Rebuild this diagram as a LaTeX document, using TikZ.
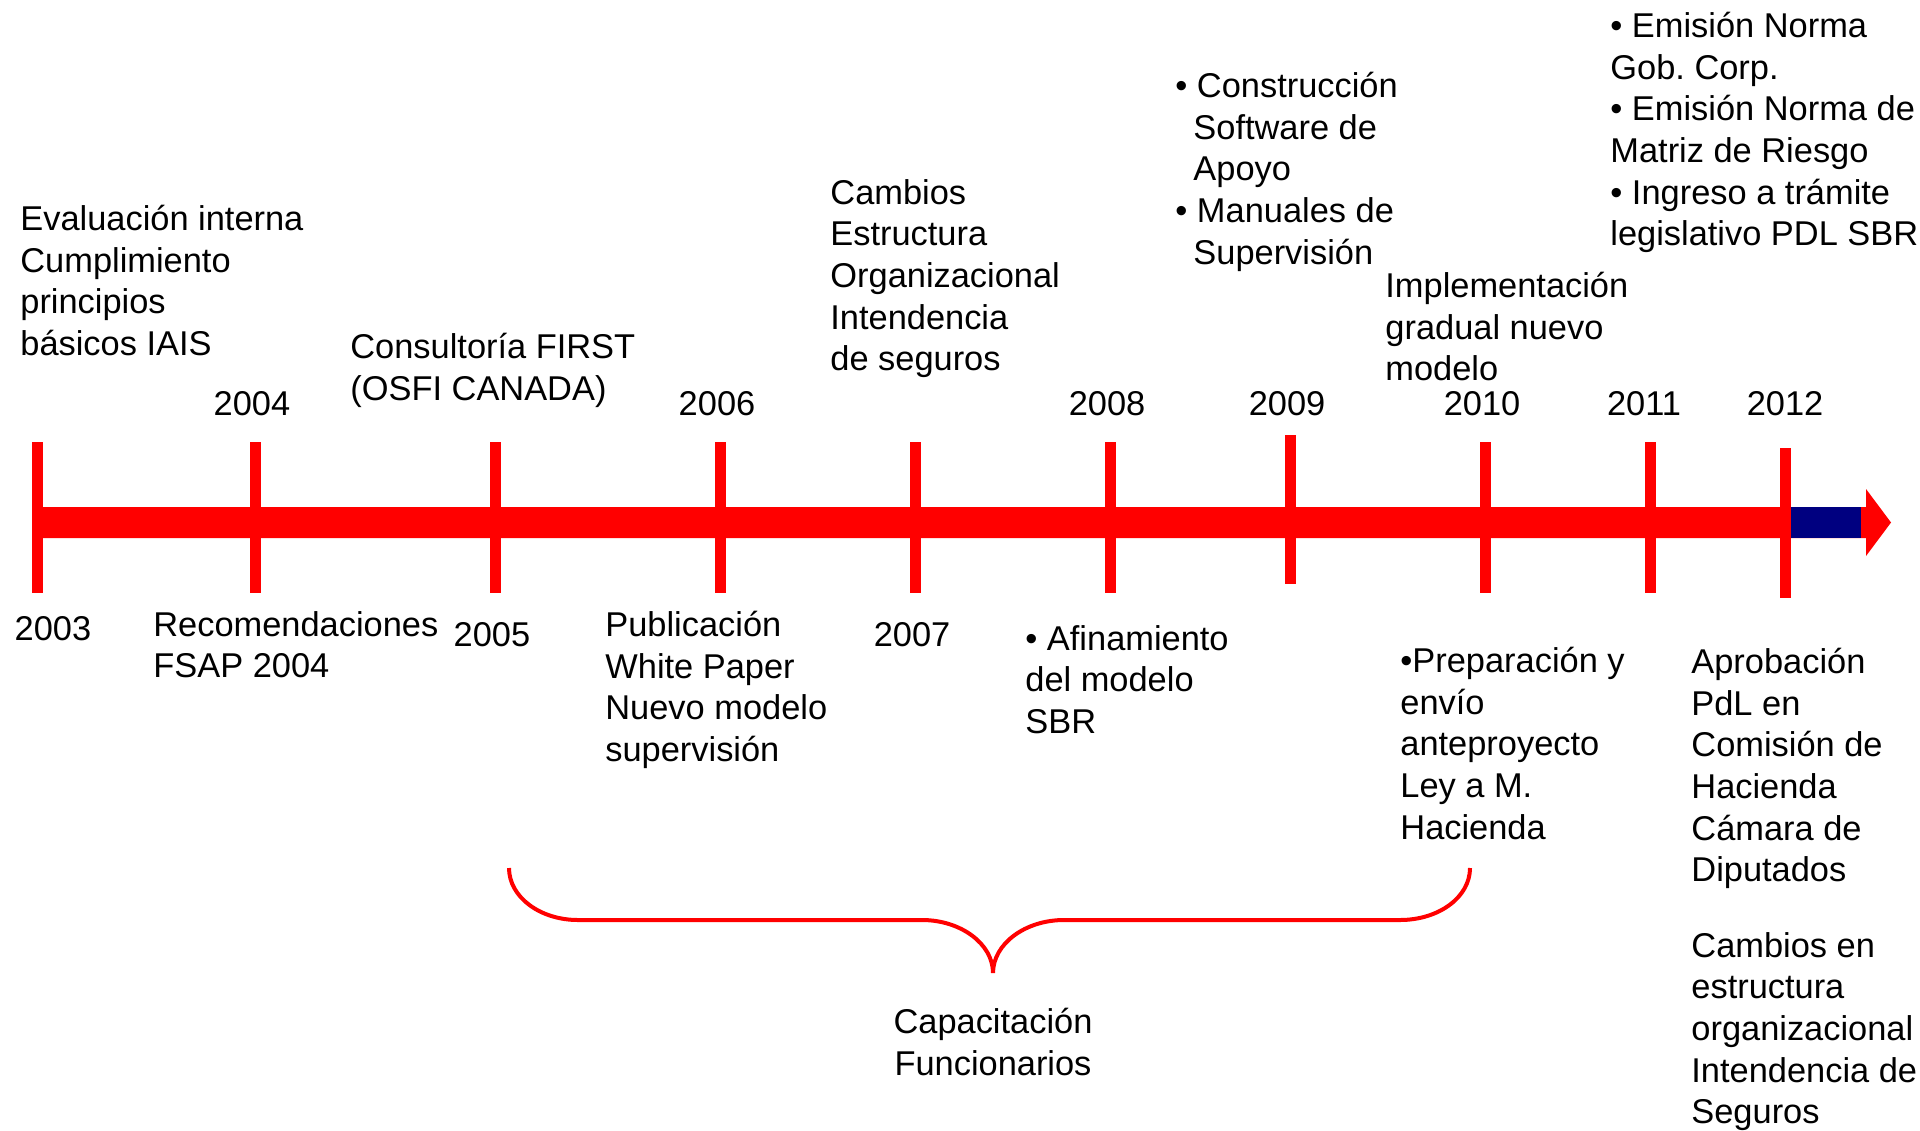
\documentclass[tikz,border=0pt]{standalone}
\usepackage{fontspec}
\setmainfont{Liberation Sans}
\usetikzlibrary{positioning}
\definecolor{tlred}{RGB}{255,0,0}
\definecolor{tlnavy}{RGB}{0,0,128}
\frenchspacing
\newcommand{\bulind}{\hphantom{•}\hspace{3pt}}

\begin{document}
\begin{tikzpicture}[x=0.5pt, y=-0.5pt,
  yr/.style={anchor=north, inner sep=0pt, font=\fontsize{17.2}{20.8}\selectfont},
  txt/.style={anchor=north west, inner sep=0pt, align=left, font=\fontsize{17.2}{20.8}\selectfont},
  yrtick/.style={draw=tlred, line width=5.5pt},
  brace/.style={draw=tlred, line width=2pt}]
\useasboundingbox (0,0) rectangle (1920,1130);
\fill[tlred] (32,507) -- (1866,507) -- (1866,489) -- (1891,522.5) -- (1866,556) -- (1866,538) -- (32,538) -- cycle;
\fill[tlnavy] (1791,507) rectangle (1861,538);
\foreach \x/\t/\b in {37.5/442/593, 255/442/593, 495/442/593, 720/442/593, 915/442/593,
  1110/442/593, 1290/435/584, 1485/442/593, 1650/442/593, 1785/448/598}
  \draw[yrtick] (\x,\t) -- (\x,\b);
\node[yr] (y2003) at (53,616) {2003};
\node[yr] (y2004) at (252,391) {2004};
\node[yr] (y2005) at (492,622) {2005};
\node[yr] (y2006) at (717,391) {2006};
\node[yr] (y2007) at (912,622) {2007};
\node[yr] (y2008) at (1107,391) {2008};
\node[yr] (y2009) at (1287,391) {2009};
\node[yr] (y2010) at (1482,391) {2010};
\node[yr] (y2011) at (1644,391) {2011};
\node[yr] (y2012) at (1785,391) {2012};
\node[txt] (eval) at (20,205) {Evaluación interna\\Cumplimiento\\principios\\básicos IAIS};
\node[txt] (first) at (350,333) {Consultoría FIRST\\(OSFI CANADA)};
\node[txt] (cambios) at (830,179) {Cambios\\Estructura\\Organizacional\\Intendencia\\de seguros};
\node[txt] (constr) at (1175,72) {• Construcción\\\bulind Software de\\\bulind Apoyo\\• Manuales de\\\bulind Supervisión};
\node[txt] (impl) at (1385,272) {Implementación\\gradual nuevo\\modelo};
\node[txt] (emision) at (1610,12) {• Emisión Norma\\Gob. Corp.\\• Emisión Norma de\\Matriz de Riesgo\\• Ingreso a trámite\\legislativo PDL SBR};
\node[txt] (recom) at (153,611) {Recomendaciones\\FSAP 2004};
\node[txt] (public) at (605,611) {Publicación\\White Paper\\Nuevo modelo\\supervisión};
\node[txt] (afin) at (1025,625) {• Afinamiento\\del modelo\\SBR};
\node[txt] (prep) at (1400,647) {•Preparación y\\envío\\anteproyecto\\Ley a M.\\Hacienda};
\node[txt] (aprob) at (1691,648) {Aprobación\\PdL en\\Comisión de\\Hacienda\\Cámara de\\Diputados};
\node[txt] (estr) at (1691,932) {Cambios en\\estructura\\organizacional\\Intendencia de\\Seguros};
\coordinate (tip) at (993,973);
\draw[brace] (509,868) .. controls (509,897) and (540,920) .. (578,920) -- (922,920)
  .. controls (961,920) and (993,944) .. (tip)
  .. controls (993,944) and (1025,920) .. (1064,920) -- (1400,920)
  .. controls (1439,920) and (1470,897) .. (1470,868);
\node[txt, anchor=north, align=center, below=17.5pt of tip] (capac) {Capacitación\\Funcionarios};
\end{tikzpicture}
\end{document}
